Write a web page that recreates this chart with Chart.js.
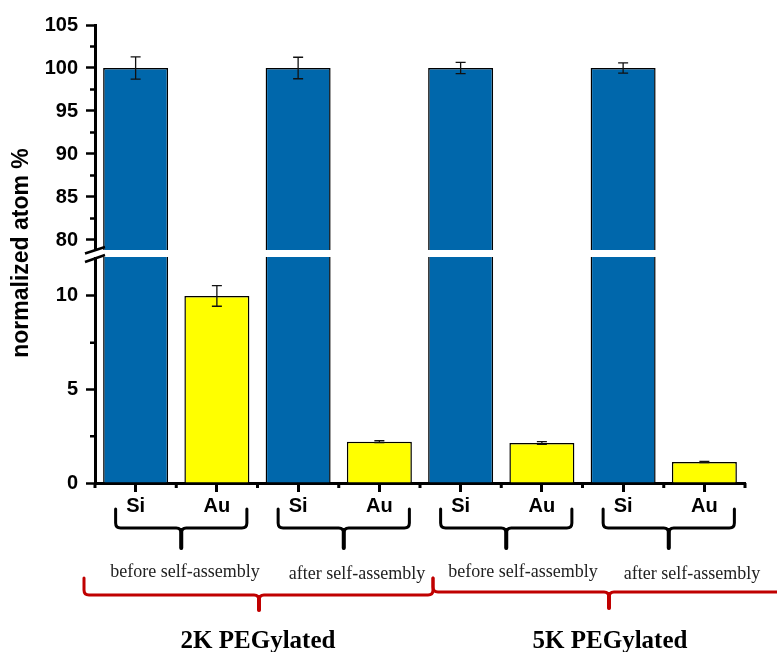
<!DOCTYPE html>
<html><head><meta charset="utf-8">
<script src="https://cdn.jsdelivr.net/npm/chart.js@4"></script>
<style>html,body{margin:0;padding:0;background:#fff}#wrap{width:777px;height:652px;position:relative}</style>
</head><body><div id="wrap"><canvas id="c"></canvas></div>
<script>
const categories = ['Si','Au','Si','Au','Si','Au','Si','Au'];
const siValues = [100, null, 100, null, 100, null, 100, null];
const auValues = [null, 10.0, null, 2.21, null, 2.14, null, 1.12];
const errValues = [1.3, 0.55, 1.25, 0.05, 0.65, 0.07, 0.6, 0.03];
const upperTicks = [80, 85, 90, 95, 100, 105];
const upperMinor = [82.5, 87.5, 92.5, 97.5, 102.5];
const lowerTicks = [0, 5, 10];
const lowerMinor = [2.5, 7.5];
const upperRange = [78.43, 105];
const lowerRange = [0, 12.27];
const groupLabels = ['before self-assembly', 'after self-assembly', 'before self-assembly', 'after self-assembly'];
const superLabels = ['2K PEGylated', '5K PEGylated'];
const yTitle = 'normalized atom %';

const BLUE = '#0067AB', YELLOW = '#FFFF00', RED = '#C00000';

const clipPlugin = {
  id: 'axisClip',
  beforeDatasetDraw(chart, args) {
    const y = chart.scales[args.meta.yAxisID];
    const ca = chart.chartArea;
    const ctx = chart.ctx;
    ctx.save();
    ctx.beginPath();
    ctx.rect(ca.left, y.top, ca.right - ca.left, y.bottom - y.top);
    ctx.clip();
  },
  afterDatasetDraw(chart) { chart.ctx.restore(); }
};

const decoPlugin = {
  id: 'deco',
  afterDatasetsDraw(chart) {
    const ctx = chart.ctx;
    const x = chart.scales.x, yH = chart.scales.yHigh, yL = chart.scales.yLow;
    const ca = chart.chartArea;
    const b = yL.top;
    ctx.save();
    ctx.fillStyle = '#fff';
    ctx.fillRect(ca.left - 4, b - 3.5, ca.right - ca.left + 6, 7);
    ctx.strokeStyle = '#111';
    ctx.lineWidth = 1.3;
    for (let i = 0; i < categories.length; i++) {
      const isSi = siValues[i] !== null;
      const v = isSi ? siValues[i] : auValues[i];
      const s = isSi ? yH : yL;
      const px = x.getPixelForValue(i);
      const t = s.getPixelForValue(v + errValues[i]);
      const bt = s.getPixelForValue(v - errValues[i]);
      ctx.beginPath();
      ctx.moveTo(px, t); ctx.lineTo(px, bt);
      ctx.moveTo(px - 5, t); ctx.lineTo(px + 5, t);
      ctx.moveTo(px - 5, bt); ctx.lineTo(px + 5, bt);
      ctx.stroke();
    }
    ctx.strokeStyle = '#000';
    ctx.lineWidth = 2.5;
    ctx.beginPath();
    upperMinor.forEach(v => { const p = yH.getPixelForValue(v); ctx.moveTo(ca.left - 5, p); ctx.lineTo(ca.left, p); });
    lowerMinor.forEach(v => { const p = yL.getPixelForValue(v); ctx.moveTo(ca.left - 5, p); ctx.lineTo(ca.left, p); });
    ctx.stroke();
    ctx.lineWidth = 3;
    ctx.beginPath();
    const step = x.getPixelForValue(1) - x.getPixelForValue(0);
    for (let i = 0; i <= categories.length; i++) {
      const p = x.getPixelForValue(0) - step / 2 + i * step;
      ctx.moveTo(p, ca.bottom); ctx.lineTo(p, ca.bottom + 5);
    }
    ctx.stroke();
    ctx.lineWidth = 2.5;
    ctx.beginPath();
    ctx.moveTo(ca.left - 10, b); ctx.lineTo(ca.left + 10, b - 6.5);
    ctx.moveTo(ca.left - 10, b + 8.5); ctx.lineTo(ca.left + 10, b + 1.5);
    ctx.stroke();
    ctx.lineWidth = 3;
    ctx.lineCap = 'round';
    const labelX = [185, 357, 523, 692];
    const labelY = [572, 574, 572, 574];
    for (let g = 0; g < 4; g++) {
      const L = x.getPixelForValue(2 * g) - 20;
      const R = x.getPixelForValue(2 * g + 1) + 30;
      const C = (L + R) / 2;
      drawBrace(ctx, L, R, C, 509, 528, 548, '#000', 5);
      ctx.fillStyle = '#222';
      ctx.font = '18px "Liberation Serif", "Times New Roman", serif';
      ctx.textAlign = 'center';
      ctx.textBaseline = 'middle';
      ctx.fillText(groupLabels[g], labelX[g], labelY[g]);
    }
    ctx.lineWidth = 3;
    drawBrace(ctx, 84, 433, 259, 578, 595, 610, RED, 5);
    drawBrace(ctx, 433, 800, 609, 578, 592, 608, RED, 5);
    ctx.fillStyle = '#000';
    ctx.font = 'bold 25px "Liberation Serif", "Times New Roman", serif';
    ctx.textAlign = 'center';
    ctx.textBaseline = 'alphabetic';
    ctx.fillText(superLabels[0], 258, 648);
    ctx.fillText(superLabels[1], 610, 648);
    ctx.save();
    ctx.translate(22, 253);
    ctx.rotate(-Math.PI / 2);
    ctx.font = 'bold 23px "Liberation Sans", Arial, sans-serif';
    ctx.textBaseline = 'middle';
    ctx.fillText(yTitle, 0, 0);
    ctx.restore();
    ctx.restore();
  }
};

function drawBrace(ctx, L, R, C, top, h, tip, color, r) {
  ctx.strokeStyle = color;
  ctx.beginPath();
  ctx.moveTo(L, top);
  ctx.lineTo(L, h - r);
  ctx.quadraticCurveTo(L, h, L + r, h);
  ctx.lineTo(C - r, h);
  ctx.quadraticCurveTo(C, h, C, h + r);
  ctx.lineTo(C, tip);
  ctx.moveTo(R, top);
  ctx.lineTo(R, h - r);
  ctx.quadraticCurveTo(R, h, R - r, h);
  ctx.lineTo(C + r, h);
  ctx.quadraticCurveTo(C, h, C, h + r);
  ctx.stroke();
  ctx.lineWidth = 4;
  ctx.beginPath();
  ctx.moveTo(C, h + 2); ctx.lineTo(C, tip);
  ctx.stroke();
  ctx.lineWidth = 3;
}

const tickFont = { family: '"Liberation Sans", Arial, sans-serif', weight: 'bold', size: 20 };

const barCommon = {
  grouped: false,
  barPercentage: 0.8,
  categoryPercentage: 1.0,
  borderColor: '#000',
  borderWidth: 1.5
};

new Chart(document.getElementById('c'), {
  type: 'bar',
  data: {
    labels: categories,
    datasets: [
      Object.assign({ label: 'Si', data: siValues, yAxisID: 'yHigh', backgroundColor: BLUE }, barCommon),
      Object.assign({ label: 'Si', data: siValues, yAxisID: 'yLow', backgroundColor: BLUE }, barCommon),
      Object.assign({ label: 'Au', data: auValues, yAxisID: 'yLow', backgroundColor: YELLOW }, barCommon)
    ]
  },
  options: {
    responsive: true,
    maintainAspectRatio: false,
    animation: false,
    layout: { padding: { top: 25, right: 32, left: 0, bottom: 0 } },
    plugins: { legend: { display: false }, tooltip: { enabled: false } },
    scales: {
      x: {
        type: 'category',
        afterFit: s => { s.height = 169; },
        grid: { display: true, drawOnChartArea: false, offset: false, tickLength: 9, tickWidth: 3, tickColor: '#000' },
        border: { display: true, width: 3, color: '#000' },
        ticks: { font: tickFont, color: '#000', padding: 2, maxRotation: 0, autoSkip: false }
      },
      yLow: {
        type: 'linear',
        position: 'left',
        stack: 'ybrk',
        stackWeight: 229.5,
        min: lowerRange[0],
        max: lowerRange[1],
        afterFit: s => { s.width = 95; },
        afterBuildTicks: s => { s.ticks = lowerTicks.map(v => ({ value: v })); },
        grid: { display: true, drawOnChartArea: false, tickLength: 9, tickWidth: 2.5, tickColor: '#000' },
        border: { display: true, width: 3, color: '#000' },
        ticks: { font: tickFont, color: '#000', padding: 8 }
      },
      yHigh: {
        type: 'linear',
        position: 'left',
        stack: 'ybrk',
        stackWeight: 228.5,
        min: upperRange[0],
        max: upperRange[1],
        afterFit: s => { s.width = 95; },
        afterBuildTicks: s => { s.ticks = upperTicks.map(v => ({ value: v })); },
        grid: { display: true, drawOnChartArea: false, tickLength: 9, tickWidth: 2.5, tickColor: '#000' },
        border: { display: true, width: 3, color: '#000' },
        ticks: { font: tickFont, color: '#000', padding: 8 }
      }
    }
  },
  plugins: [clipPlugin, decoPlugin]
});
</script>
</body></html>
